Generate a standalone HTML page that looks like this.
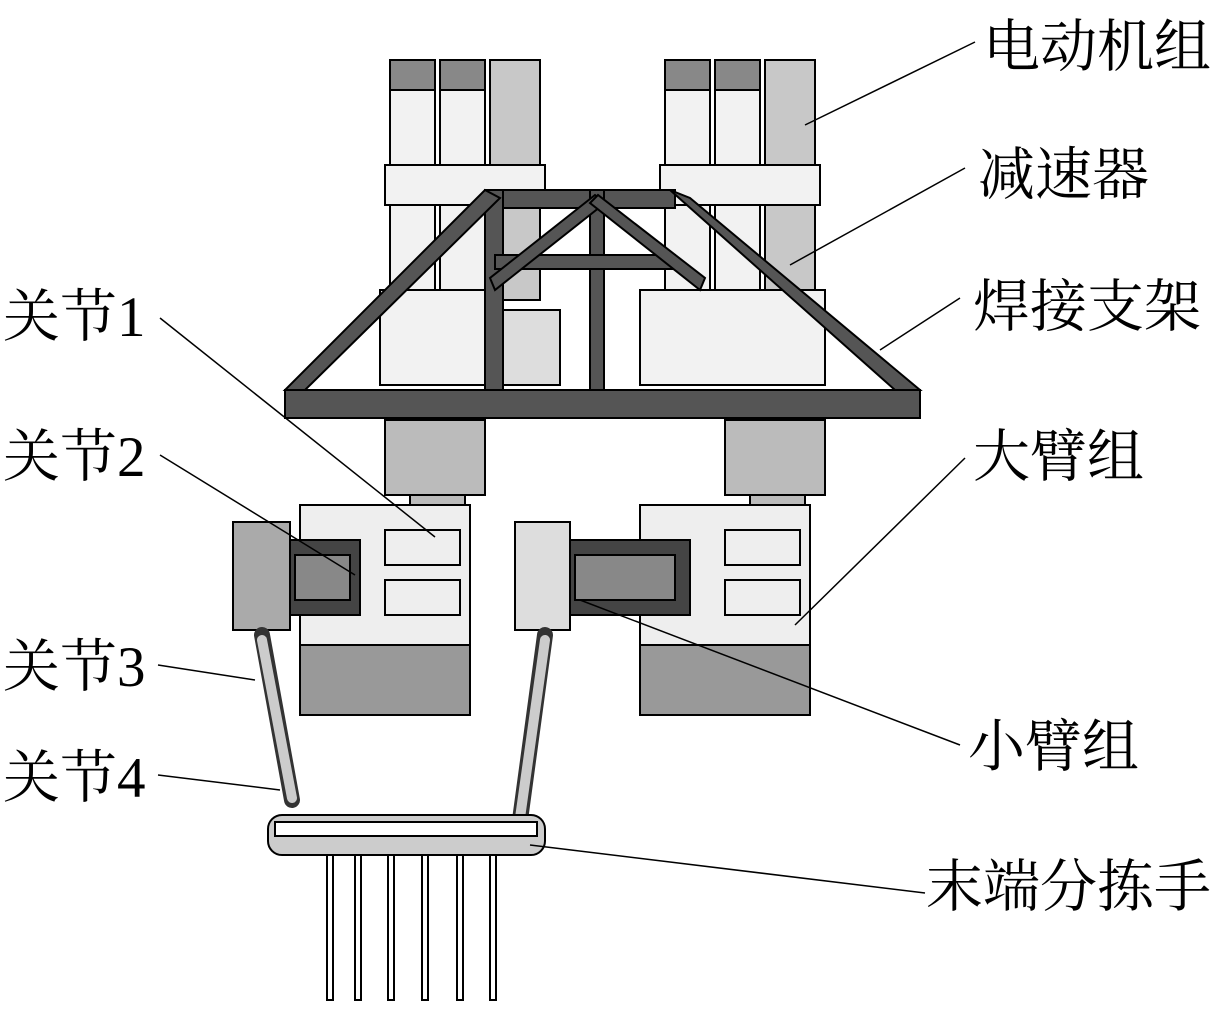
<!DOCTYPE html>
<html><head><meta charset="utf-8"><style>
html,body{margin:0;padding:0;background:#fff;}
svg{display:block;}
text{font-family:"Liberation Serif","Noto Serif CJK SC","Noto Sans CJK SC",serif;font-size:57px;fill:#000;}
</style></head><body>
<svg width="1220" height="1018" viewBox="0 0 1220 1018" xmlns="http://www.w3.org/2000/svg">
<g stroke="#000" stroke-width="2">
<g fill="#f2f2f2">
<rect x="390" y="60" width="45" height="240"/><rect x="440" y="60" width="45" height="240"/><rect x="490" y="60" width="50" height="240" fill="#c8c8c8"/>
<rect x="665" y="60" width="45" height="240"/><rect x="715" y="60" width="45" height="240"/><rect x="765" y="60" width="50" height="240" fill="#c8c8c8"/>
<rect x="390" y="60" width="45" height="30" fill="#888"/><rect x="440" y="60" width="45" height="30" fill="#888"/>
<rect x="665" y="60" width="45" height="30" fill="#888"/><rect x="715" y="60" width="45" height="30" fill="#888"/>
<rect x="385" y="165" width="160" height="40"/><rect x="660" y="165" width="160" height="40"/>
<rect x="380" y="290" width="120" height="95"/><rect x="500" y="310" width="60" height="75" fill="#ddd"/>
<rect x="640" y="290" width="185" height="95"/>
</g>
<g fill="#555">
<rect x="285" y="390" width="635" height="28"/>
<rect x="485" y="190" width="190" height="18"/>
<rect x="485" y="190" width="18" height="200"/><rect x="590" y="190" width="14" height="200"/>
<rect x="495" y="255" width="180" height="14"/>
<polygon points="485,190 500,198 305,390 285,390"/>
<polygon points="670,190 690,198 920,390 895,390"/>
<polygon points="595,195 605,203 495,290 490,278"/>
<polygon points="598,195 590,203 700,290 705,278"/>
</g>
<g fill="#bbb">
<rect x="385" y="420" width="100" height="75"/><rect x="725" y="420" width="100" height="75"/>
<rect x="410" y="495" width="55" height="15"/><rect x="750" y="495" width="55" height="15"/>
</g>
<g fill="#eee">
<rect x="300" y="505" width="170" height="140"/><rect x="640" y="505" width="170" height="140"/>
<rect x="300" y="645" width="170" height="70" fill="#999"/><rect x="640" y="645" width="170" height="70" fill="#999"/>
<rect x="385" y="530" width="75" height="35"/><rect x="385" y="580" width="75" height="35"/>
<rect x="725" y="530" width="75" height="35"/><rect x="725" y="580" width="75" height="35"/>
</g>
<g>
<rect x="285" y="540" width="75" height="75" fill="#444"/><rect x="295" y="555" width="55" height="45" fill="#888"/>
<rect x="233" y="522" width="57" height="108" fill="#aaa"/>
<rect x="565" y="540" width="125" height="75" fill="#444"/><rect x="575" y="555" width="100" height="45" fill="#888"/>
<rect x="515" y="522" width="55" height="108" fill="#ddd"/>
</g>
<g stroke-width="16" stroke-linecap="round" fill="none">
<line x1="262" y1="635" x2="292" y2="800" stroke="#333"/>
<line x1="545" y1="635" x2="520" y2="820" stroke="#333"/>
</g>
<g stroke-width="10" stroke-linecap="round" fill="none">
<line x1="262" y1="640" x2="292" y2="798" stroke="#ccc"/>
<line x1="545" y1="640" x2="520" y2="818" stroke="#ccc"/>
</g>
<rect x="268" y="815" width="277" height="40" rx="14" fill="#ccc"/>
<rect x="275" y="822" width="262" height="14" fill="#fff"/>
<g fill="#fff">
<rect x="327" y="855" width="6" height="145"/><rect x="355" y="855" width="6" height="145"/><rect x="388" y="855" width="6" height="145"/>
<rect x="422" y="855" width="6" height="145"/><rect x="457" y="855" width="6" height="145"/><rect x="490" y="855" width="6" height="145"/>
</g>
<g stroke-width="1.5">
<line x1="975" y1="42" x2="805" y2="125"/>
<line x1="965" y1="168" x2="790" y2="265"/>
<line x1="960" y1="298" x2="880" y2="350"/>
<line x1="965" y1="458" x2="795" y2="625"/>
<line x1="960" y1="745" x2="580" y2="600"/>
<line x1="925" y1="893" x2="530" y2="845"/>
<line x1="160" y1="318" x2="435" y2="537"/>
<line x1="160" y1="455" x2="355" y2="575"/>
<line x1="158" y1="665" x2="255" y2="680"/>
<line x1="158" y1="775" x2="280" y2="790"/>
</g>
</g>
<text x="983" y="66">电动机组</text>
<text x="978" y="194">减速器</text>
<text x="973" y="326">焊接支架</text>
<text x="973" y="476">大臂组</text>
<text x="968" y="766">小臂组</text>
<text x="926" y="906">末端分拣手</text>
<text x="3" y="336">关节1</text>
<text x="3" y="476">关节2</text>
<text x="3" y="686">关节3</text>
<text x="3" y="797">关节4</text>
</svg>
</body></html>
